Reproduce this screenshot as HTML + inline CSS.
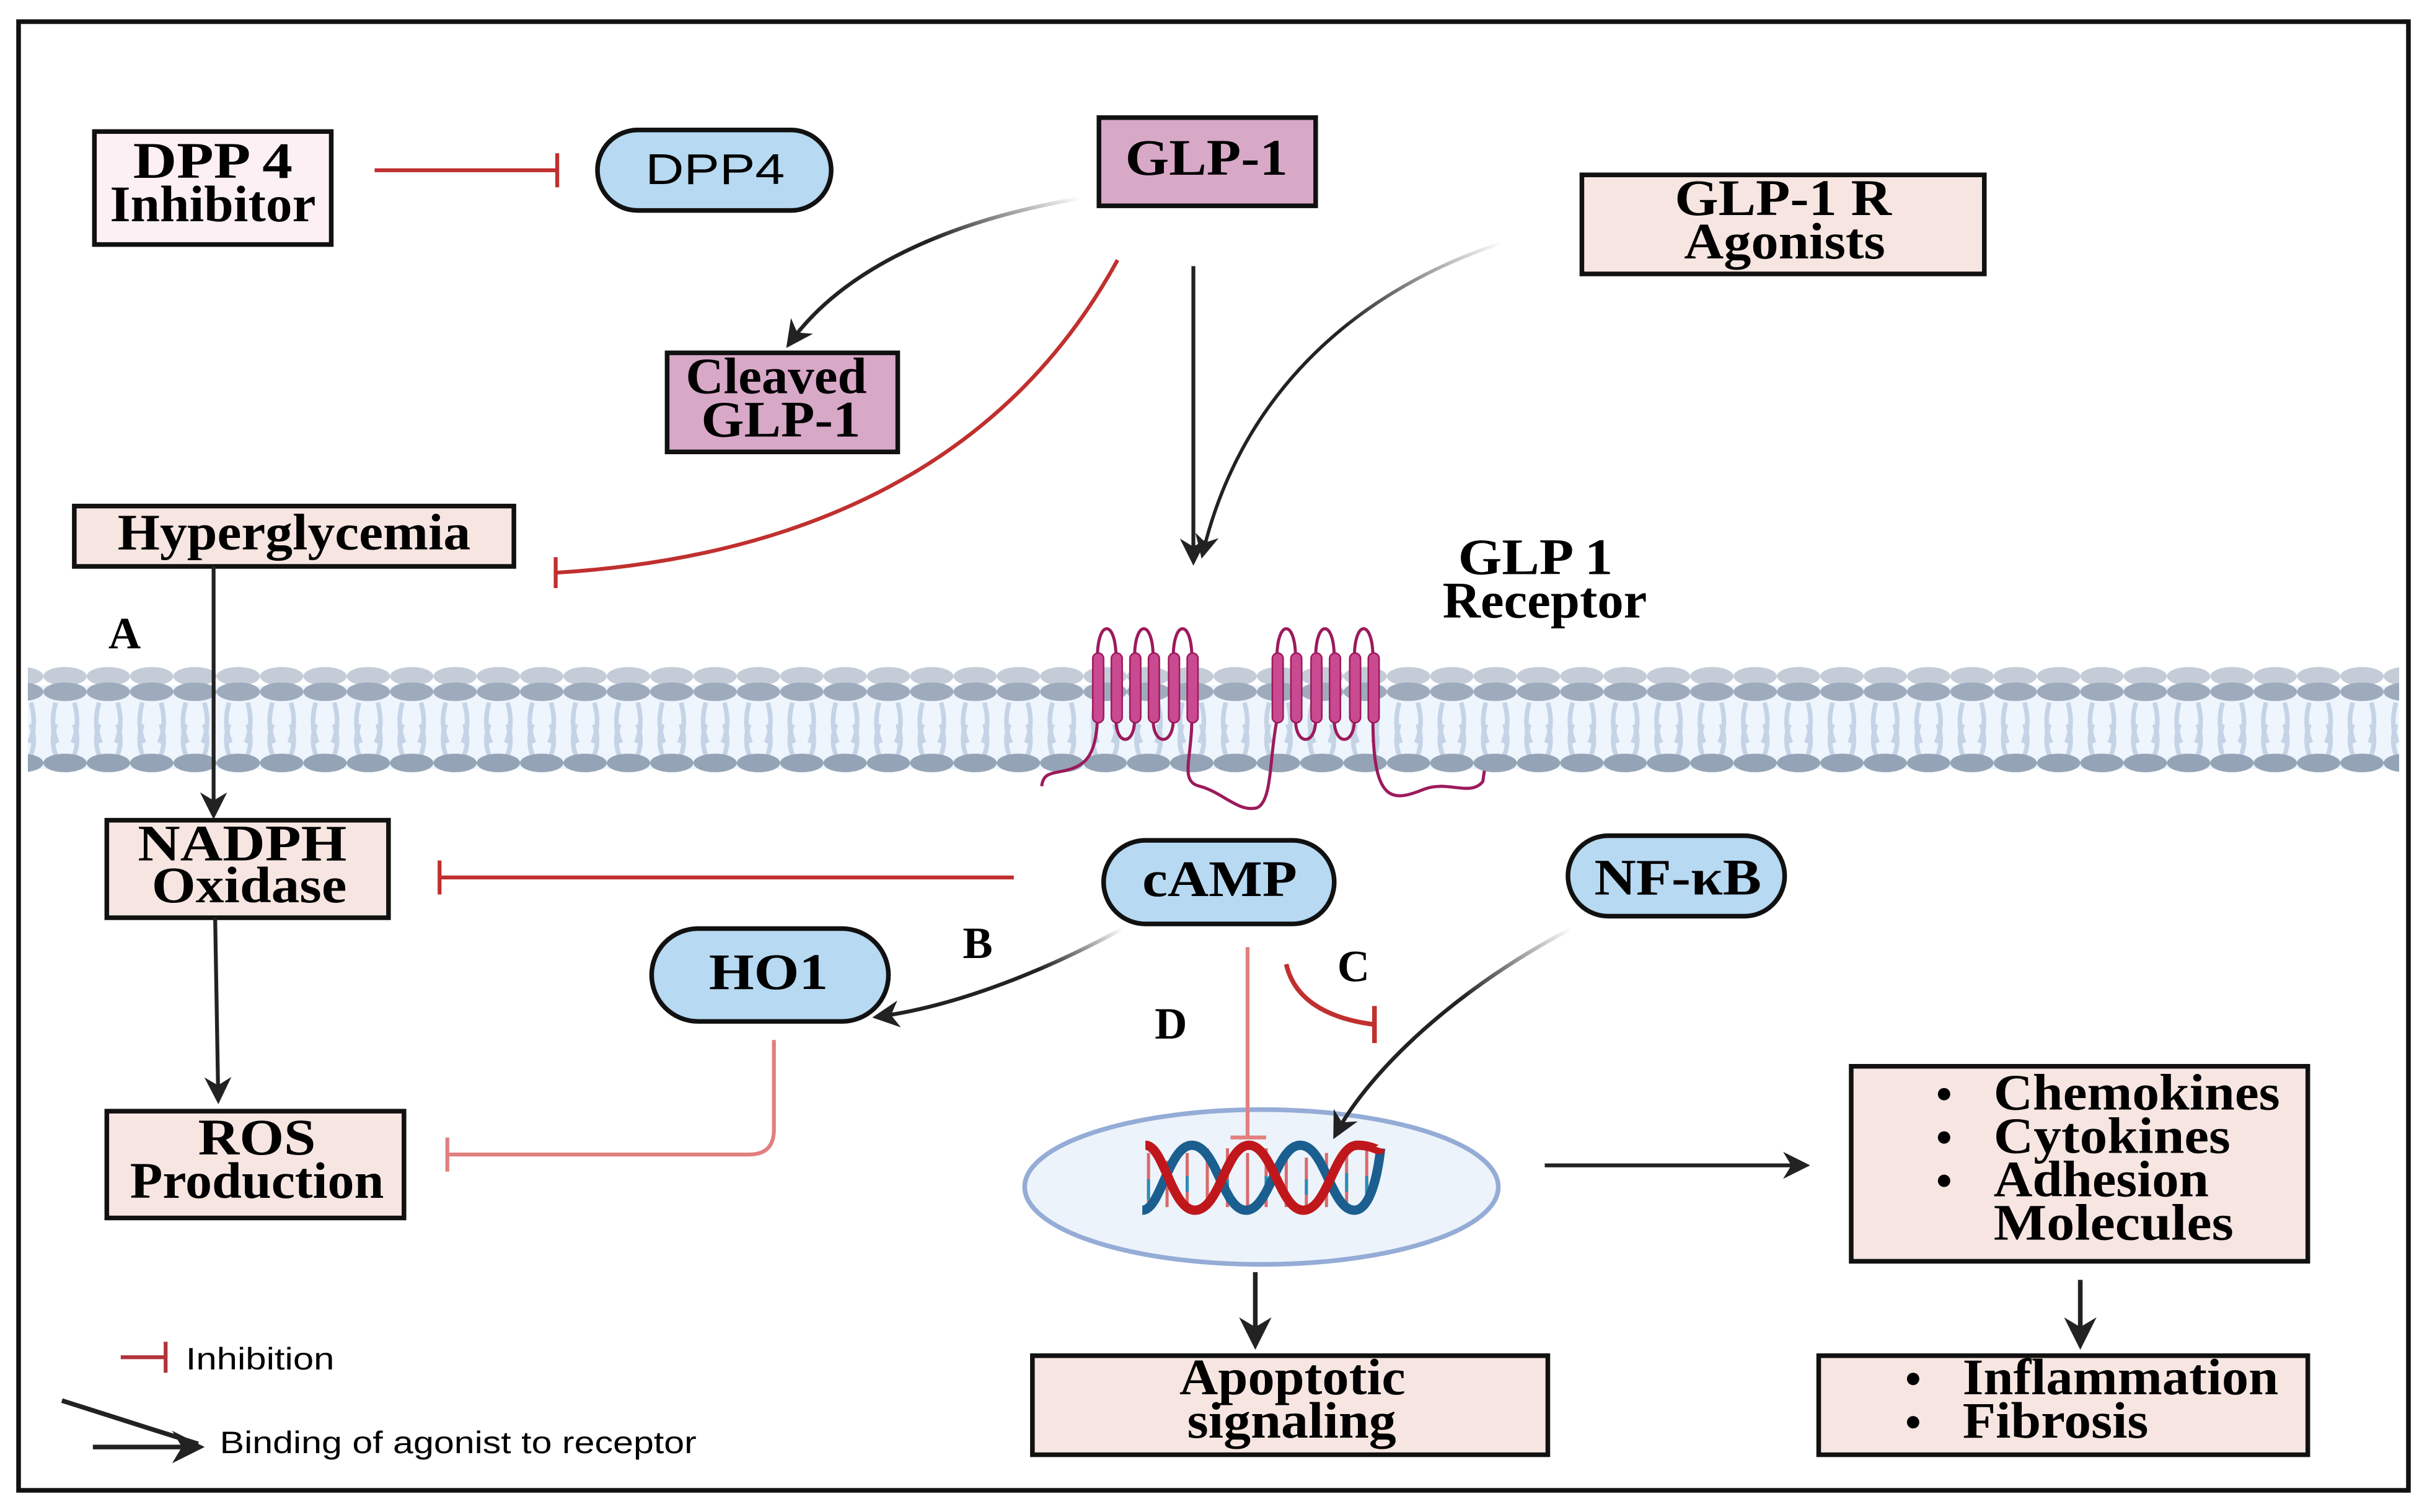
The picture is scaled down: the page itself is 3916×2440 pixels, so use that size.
<!DOCTYPE html>
<html><head><meta charset="utf-8"><style>
html,body{margin:0;padding:0;background:#fff;}
svg{display:block;}
.t{font-family:"Liberation Serif",serif;font-weight:bold;fill:#000;}
.s{font-family:"Liberation Sans",sans-serif;fill:#000;}
</style></head><body>
<svg width="3916" height="2440" viewBox="0 0 1568 977" xmlns="http://www.w3.org/2000/svg">
<defs>
<marker id="ah" viewBox="0 0 10 10" refX="8" refY="5" markerWidth="7" markerHeight="7" orient="auto" markerUnits="strokeWidth">
<path d="M0,0 L10,5 L0,10 L3,5 z" fill="#222"/></marker>
<linearGradient id="g1" x1="1" y1="0" x2="0" y2="1"><stop offset="0" stop-color="#222" stop-opacity="0"/><stop offset="0.4" stop-color="#222"/></linearGradient>
<pattern id="mem" x="0" y="0" width="28" height="100" patternUnits="userSpaceOnUse">
<ellipse cx="14" cy="37" rx="14" ry="6" fill="#c3ccd7"/>
<path d="M8,54 Q4,68 9,80 M20,54 Q24,68 19,80" stroke="#c5d3e6" stroke-width="3" fill="none"/>
<path d="M8,68 Q4,80 9,90 M20,68 Q24,80 19,90" stroke="#c5d3e6" stroke-width="3" fill="none"/>
<ellipse cx="14" cy="47" rx="14" ry="6" fill="#9eabbd"/>
<ellipse cx="14" cy="93" rx="14" ry="6" fill="#95a3b6"/>
</pattern>
</defs>
<rect x="12" y="14" width="1544" height="949" fill="#fff" stroke="#111" stroke-width="3"/>

<rect x="18" y="443" width="1532" height="54" fill="#eef5fc"/>
<rect x="18" y="400" width="1532" height="100" fill="url(#mem)"/>

<g stroke="#9c1a5c" stroke-width="2" fill="none">
<path d="M709,425 C709,400 721,400 721,425 M733,425 C733,400 745,400 745,425 M758,425 C758,400 770,400 770,425"/>
<path d="M721,465 C721,482 733,482 733,465 M745,465 C745,482 758,482 758,465"/>
<path d="M709,465 C708,490 700,495 688,498 C678,500 674,500 673,508"/>
<path d="M770,465 C770,490 762,505 775,508 C790,512 800,525 812,522 C822,518 820,490 825,465"/>
<path d="M825,425 C825,400 837,400 837,425 M850,425 C850,400 862,400 862,425 M875,425 C875,400 887,400 887,425"/>
<path d="M837,465 C837,482 850,482 850,465 M862,465 C862,482 875,482 875,465"/>
<path d="M887,465 C887,520 900,518 920,510 C935,504 950,515 958,505 L959,498"/>
</g>
<g fill="#c94a91" stroke="#9c1a5c" stroke-width="1">
<rect x="706" y="422" width="7" height="45" rx="3.5"/><rect x="718" y="422" width="7" height="45" rx="3.5"/><rect x="730" y="422" width="7" height="45" rx="3.5"/><rect x="742" y="422" width="7" height="45" rx="3.5"/><rect x="755" y="422" width="7" height="45" rx="3.5"/><rect x="767" y="422" width="7" height="45" rx="3.5"/>
<rect x="822" y="422" width="7" height="45" rx="3.5"/><rect x="834" y="422" width="7" height="45" rx="3.5"/><rect x="847" y="422" width="7" height="45" rx="3.5"/><rect x="859" y="422" width="7" height="45" rx="3.5"/><rect x="872" y="422" width="7" height="45" rx="3.5"/><rect x="884" y="422" width="7" height="45" rx="3.5"/>
</g>

<ellipse cx="815" cy="767" rx="153" ry="50" fill="#edf3fb" stroke="#94acd6" stroke-width="3"/>
<g stroke-width="2">
<path d="M742,745 V782 M754,750 V780 M767,745 V780 M780,742 V778 M793,742 V780 M806,745 V780 M818,742 V780 M831,745 V780 M844,748 V782 M857,745 V780 M870,742 V778 M883,742 V778" stroke="#d86a6a"/>
<path d="M742,762 V775 M767,760 V770 M793,762 V772 M818,760 V770 M844,762 V772 M870,758 V770 M883,760 V772" stroke="#2a8cb5"/>
</g>
<path d="M738,782 C750,782 755,740 770,740 C786,740 790,782 805,782 C820,782 825,740 840,740 C856,740 860,782 875,782 C885,782 890,760 892,742" stroke="#1a5f8f" stroke-width="6" fill="none"/>
<path d="M740,740 C752,740 757,782 772,782 C788,782 792,740 807,740 C822,740 827,782 842,782 C858,782 862,740 877,740 C888,740 891,745 892,742" stroke="#c0171c" stroke-width="6" fill="none"/>

<g stroke="#111" stroke-width="3">
<rect x="61" y="85" width="153" height="73" fill="#fcf0f4"/>
<rect x="710" y="76" width="140" height="57" fill="#d8a8c7"/>
<rect x="1022" y="113" width="260" height="64" fill="#f6e5e0"/>
<rect x="431" y="228" width="149" height="64" fill="#d8a8c7"/>
<rect x="48" y="327" width="284" height="39" fill="#f6e5e0"/>
<rect x="69" y="530" width="182" height="63" fill="#f6e5e0"/>
<rect x="69" y="718" width="192" height="69" fill="#f6e5e0"/>
<rect x="1196" y="689" width="295" height="126" fill="#f6e5e0"/>
<rect x="667" y="876" width="333" height="64" fill="#f6e5e0"/>
<rect x="1175" y="876" width="316" height="64" fill="#f6e5e0"/>
<rect x="386" y="84" width="151" height="52" rx="26" fill="#b7d9f2"/>
<rect x="713" y="543" width="149" height="54" rx="27" fill="#b7d9f2"/>
<rect x="1013" y="540" width="140" height="52" rx="26" fill="#b7d9f2"/>
<rect x="421" y="600" width="153" height="60" rx="30" fill="#b7d9f2"/>
</g>

<g class="t" font-size="33">
<text x="86" y="115" textLength="103" lengthAdjust="spacingAndGlyphs">DPP 4</text>
<text x="71" y="143" textLength="133" lengthAdjust="spacingAndGlyphs">Inhibitor</text>
<text x="727" y="113" textLength="105" lengthAdjust="spacingAndGlyphs">GLP-1</text>
<text x="1082" y="139" textLength="140" lengthAdjust="spacingAndGlyphs">GLP-1 R</text>
<text x="1088" y="167" textLength="130" lengthAdjust="spacingAndGlyphs">Agonists</text>
<text x="443" y="254" textLength="117" lengthAdjust="spacingAndGlyphs">Cleaved</text>
<text x="453" y="282" textLength="103" lengthAdjust="spacingAndGlyphs">GLP-1</text>
<text x="76" y="355" textLength="228" lengthAdjust="spacingAndGlyphs">Hyperglycemia</text>
<text x="942" y="371" textLength="100" lengthAdjust="spacingAndGlyphs">GLP 1</text>
<text x="932" y="399" textLength="132" lengthAdjust="spacingAndGlyphs">Receptor</text>
<text x="89" y="556" textLength="135" lengthAdjust="spacingAndGlyphs">NADPH</text>
<text x="98" y="583" textLength="126" lengthAdjust="spacingAndGlyphs">Oxidase</text>
<text x="128" y="746" textLength="76" lengthAdjust="spacingAndGlyphs">ROS</text>
<text x="84" y="774" textLength="164" lengthAdjust="spacingAndGlyphs">Production</text>
<text x="738" y="579" textLength="100" lengthAdjust="spacingAndGlyphs">cAMP</text>
<text x="1030" y="578" textLength="108" lengthAdjust="spacingAndGlyphs">NF-κB</text>
<text x="458" y="639" textLength="77" lengthAdjust="spacingAndGlyphs">HO1</text>
<text x="762" y="901" textLength="146" lengthAdjust="spacingAndGlyphs">Apoptotic</text>
<text x="767" y="929" textLength="135" lengthAdjust="spacingAndGlyphs">signaling</text>
<text x="1288" y="717" textLength="185" lengthAdjust="spacingAndGlyphs">Chemokines</text>
<text x="1288" y="745" textLength="153" lengthAdjust="spacingAndGlyphs">Cytokines</text>
<text x="1288" y="773" textLength="139" lengthAdjust="spacingAndGlyphs">Adhesion</text>
<text x="1288" y="801" textLength="155" lengthAdjust="spacingAndGlyphs">Molecules</text>
<text x="1268" y="901" textLength="204" lengthAdjust="spacingAndGlyphs">Inflammation</text>
<text x="1268" y="929" textLength="120" lengthAdjust="spacingAndGlyphs">Fibrosis</text>
</g>
<g class="t" font-size="29">
<text x="70" y="419">A</text>
<text x="622" y="619">B</text>
<text x="864" y="634">C</text>
<text x="746" y="671">D</text>
</g>
<g fill="#000"><circle cx="1256" cy="707" r="4"/><circle cx="1256" cy="735" r="4"/><circle cx="1256" cy="763" r="4"/><circle cx="1236" cy="891" r="4"/><circle cx="1236" cy="919" r="4"/></g>
<text class="s" x="417" y="119" font-size="28" textLength="90" lengthAdjust="spacingAndGlyphs">DPP4</text>

<g fill="none" stroke-width="2.5">
<path d="M242,110 H360 M360,99 V121" stroke="#c0302f"/>
<path d="M722,168 C650,300 520,360 360,370 M359,360 V380" stroke="#c0302f"/>
<path d="M655,567 H285 M284,556 V578" stroke="#c0302f"/>
<path d="M500,672 V730 Q500,746 484,746 H290 M289,735 V757" stroke="#e0807f"/>
<path d="M806,612 V735 M795,735 H818" stroke="#e0807f"/>
<path d="M831,623 C836,645 856,658 888,662 M888,650 V674" stroke="#c0302f" stroke-width="3"/>
<path d="M698,128 C600,145 540,180 510,222" stroke="url(#g1)" marker-end="url(#ah)"/>
<path d="M725,600 C680,625 620,650 567,657" stroke="url(#g1)" marker-end="url(#ah)"/>
<path d="M1015,600 C930,645 880,700 863,733" stroke="url(#g1)" marker-end="url(#ah)"/>
<path d="M970,157 C870,190 800,260 777,358" stroke="url(#g1)" stroke-width="2.2" marker-end="url(#ah)"/>
<path d="M771,172 V362" stroke="#222" marker-end="url(#ah)"/>
<path d="M138,366 V526" stroke="#222" marker-end="url(#ah)"/>
<path d="M139,593 L141,710" stroke="#222" marker-end="url(#ah)"/>
<path d="M998,753 H1166" stroke="#222" marker-end="url(#ah)"/>
<path d="M811,822 V868" stroke="#222" stroke-width="3" marker-end="url(#ah)"/>
<path d="M1344,827 V868" stroke="#222" stroke-width="3" marker-end="url(#ah)"/>
<path d="M78,877 H107 M107,867 V887" stroke="#b3333a" stroke-width="2.5"/>
<path d="M40,905 L128,933" stroke="url(#g1)" stroke-width="3"/>
<path d="M60,935 H128" stroke="#222" stroke-width="3" marker-end="url(#ah)"/>
</g>
<text class="s" x="120" y="885" font-size="20" textLength="96" lengthAdjust="spacingAndGlyphs">Inhibition</text>
<text class="s" x="142" y="939" font-size="20" textLength="308" lengthAdjust="spacingAndGlyphs">Binding of agonist to receptor</text>
</svg>
</body></html>
